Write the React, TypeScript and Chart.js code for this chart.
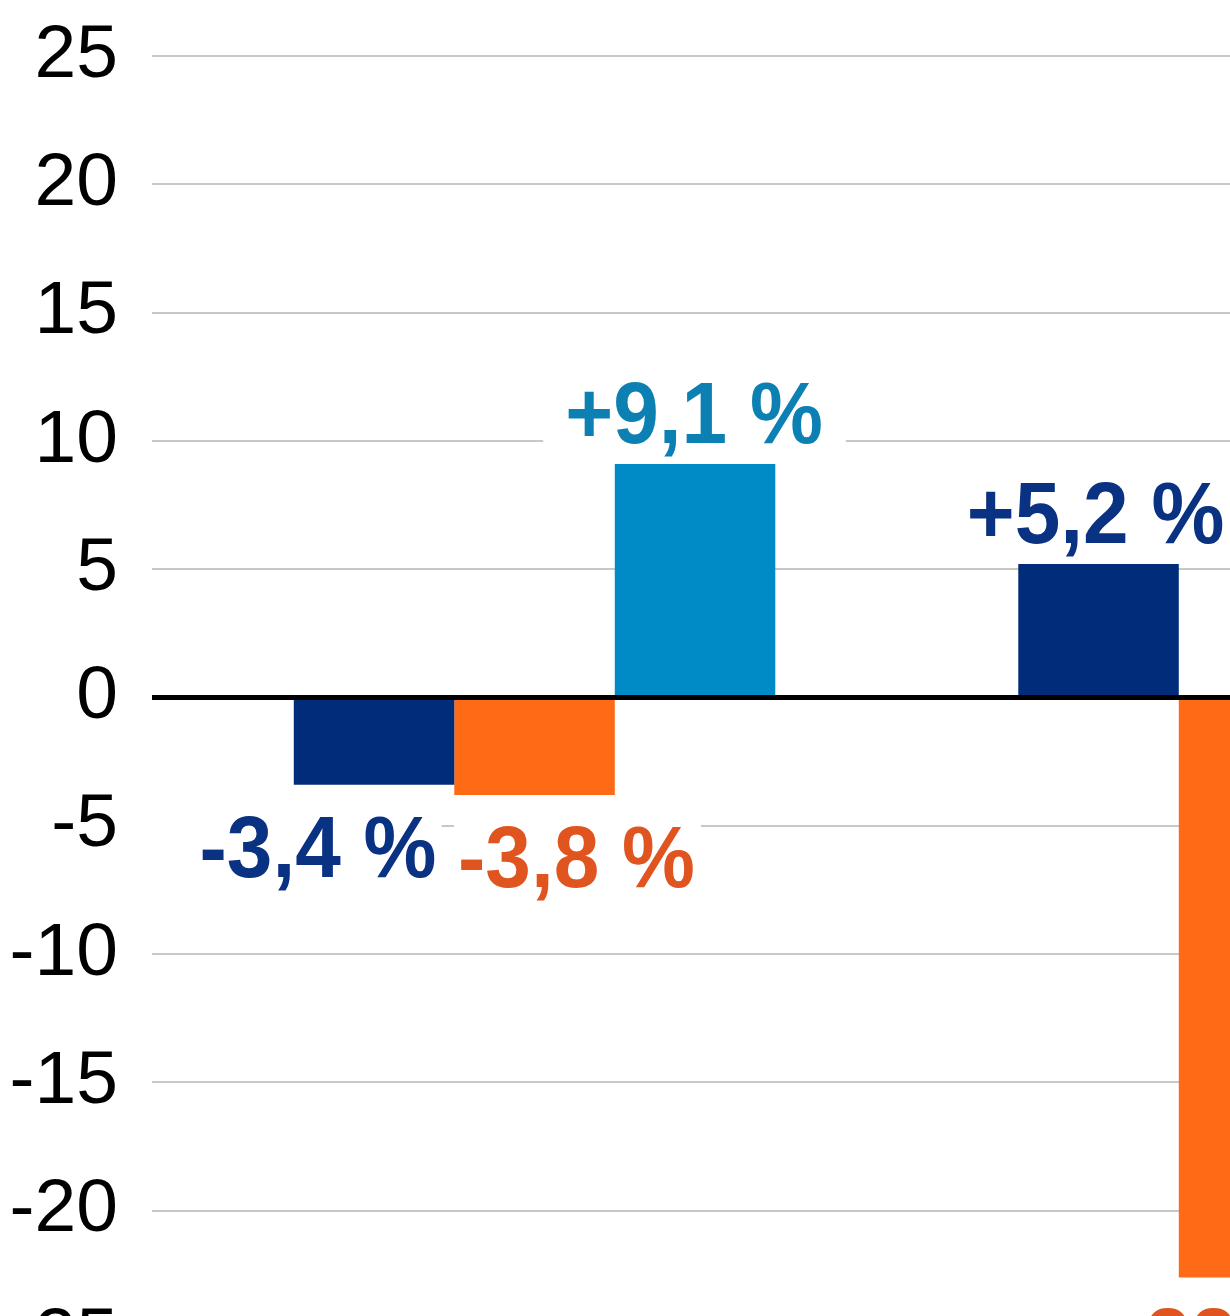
import React, { useEffect, useRef } from 'react';
import { Chart, registerables } from 'chart.js';

Chart.register(...registerables);

// ---- data ----
const groupPositions = [1, 2];
const seriesNames = ['Reihe 1', 'Reihe 2', 'Reihe 3'];
const darkBlueValues: (number | null)[] = [-3.4, 5.2];
const orangeValues: (number | null)[] = [-3.8, -22.6];
const lightBlueValues: (number | null)[] = [9.1, null];
const yTickMin = -25;
const yTickMax = 25;
const yTickStep = 5;

// ---- styles ----
const barColors = ['#002C7A', '#FF6A17', '#008BC7'];
const labelColors = ['#0A3283', '#E0541F', '#0C80B2'];
// horizontal label shift relative to the bar centre [dataset][group]
const labelDx = [
  [-56, -3],
  [42, 0],
  [-1, 0],
];
// white background padding [dataset][group] -> [left, right]
const labelPad = [
  [[50, 5], [24, 24]],
  [[4, 6], [24, 24]],
  [[22, 23], [24, 24]],
];
const FONT = '"Liberation Sans", Arial, Helvetica, sans-serif';

const fmt = (v: number) => (v > 0 ? '+' : '') + v.toFixed(1).replace('.', ',') + ' %';

const labelPlugin = {
  id: 'valueLabels',
  afterDatasetsDraw(chart: any) {
    const ctx = chart.ctx as CanvasRenderingContext2D;
    const area = chart.chartArea;
    const yScale = chart.scales.y;
    const y0 = yScale.getPixelForValue(0);
    ctx.save();
    ctx.strokeStyle = '#000';
    ctx.lineWidth = 5;
    ctx.beginPath();
    ctx.moveTo(area.left, y0);
    ctx.lineTo(area.right, y0);
    ctx.stroke();
    ctx.restore();

    const items: any[] = [];
    chart.data.datasets.forEach((ds: any, di: number) => {
      const meta = chart.getDatasetMeta(di);
      meta.data.forEach((bar: any, i: number) => {
        const pt = ds.data[i];
        const v = pt ? pt.y : null;
        if (v === null || v === undefined) return;
        const text = fmt(v);
        const cx = bar.x + labelDx[di][i];
        const baseline = v >= 0 ? bar.y - 21 : bar.y + 92;
        items.push({ text, cx, baseline, di, i });
      });
    });
    ctx.save();
    ctx.font = `bold 82px ${FONT}`;
    items.forEach((it) => {
      const w = ctx.measureText(it.text).width;
      const [pl, pr] = labelPad[it.di][it.i];
      ctx.fillStyle = '#ffffff';
      ctx.fillRect(it.cx - w / 2 - pl, it.baseline - 70, w + pl + pr, 86);
    });
    items.forEach((it) => {
      ctx.save();
      ctx.translate(it.cx, it.baseline);
      ctx.scale(1, 1.06);
      ctx.textAlign = 'center';
      ctx.textBaseline = 'alphabetic';
      ctx.fillStyle = labelColors[it.di];
      ctx.fillText(it.text, 0, 0);
      ctx.restore();
    });
    ctx.restore();
  },
};

export default function App() {
  const ref = useRef<HTMLCanvasElement | null>(null);

  useEffect(() => {
    if (!ref.current) return;
    const series = [darkBlueValues, orangeValues, lightBlueValues];
    const chart = new Chart(ref.current, {
      type: 'bar',
      data: {
        datasets: series.map((vals, si) => ({
          label: seriesNames[si],
          data: groupPositions.map((x, gi) => ({ x, y: vals[gi] })) as any,
          backgroundColor: barColors[si],
          borderWidth: 0,
          categoryPercentage: 0.6646,
          barPercentage: 1,
        })),
      },
      options: {
        animation: false,
        responsive: false,
        devicePixelRatio: 1,
        layout: { padding: { top: 56, bottom: 61, left: 0, right: 0 } },
        plugins: {
          legend: { display: false },
          tooltip: { enabled: false },
        },
        scales: {
          x: {
            type: 'linear',
            display: false,
            offset: false,
            min: 0.472,
            max: 0.472 + (1700 - 152) / 724.5,
            grid: { display: false, offset: false },
            afterBuildTicks: (axis: any) => {
              axis.ticks = groupPositions.map((v) => ({ value: v }));
            },
          },
          y: {
            min: yTickMin,
            max: yTickMax,
            ticks: {
              stepSize: yTickStep,
              color: '#000',
              padding: 34,
              font: { size: 75, family: FONT },
            },
            grid: {
              color: (c: any) => (c.tick && c.tick.value === 0 ? 'rgba(0,0,0,0)' : '#C8C8C8'),
              lineWidth: 2,
              drawTicks: false,
            },
            border: { display: false },
            afterFit: (axis: any) => {
              axis.width = 152;
              axis.paddingTop = 0;
              axis.paddingBottom = 0;
            },
          },
        },
      } as any,
      plugins: [labelPlugin],
    });
    return () => chart.destroy();
  }, []);

  return (
    <div
      style={{
        position: 'fixed',
        top: 0,
        left: 0,
        width: 1230,
        height: 1316,
        overflow: 'hidden',
        background: '#fff',
      }}
    >
      <canvas ref={ref} width={1700} height={1400} style={{ display: 'block' }} />
    </div>
  );
}
